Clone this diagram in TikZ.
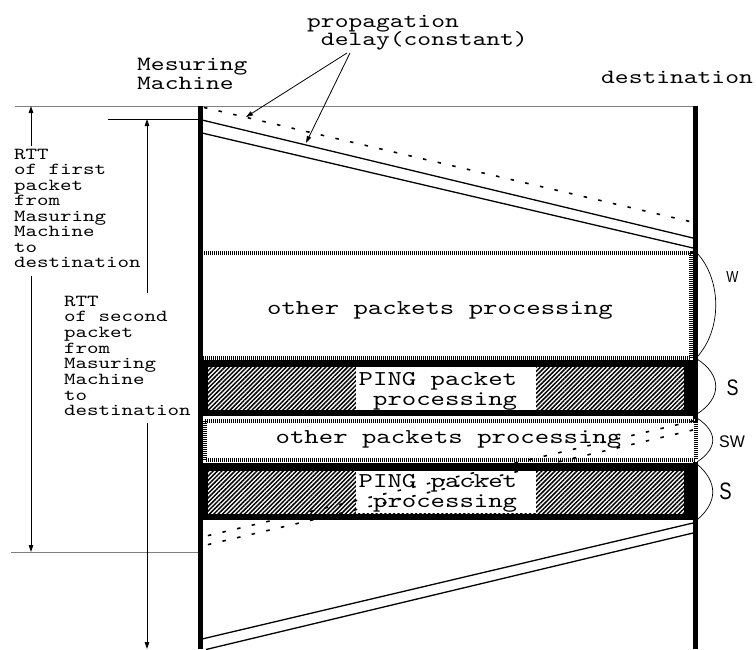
\documentclass[tikz,border=0pt]{standalone}
\usepackage{fontspec}
\usepackage{graphicx}
\newfontfamily\cmono[FakeStretch=1.3]{lmmono10-regular.otf}
\newfontfamily\lsans{Liberation Sans}
\usetikzlibrary{patterns.meta,arrows.meta,calc}
\newcommand\mystack[2]{\vtop{\lineskiplimit=-100pt\lineskip=0pt\baselineskip=#1\relax\halign{##\hfil\cr#2\crcr}}}
\tikzset{
  machine/.style={line width=5pt},
  ticked/.style={line width=4pt, dash pattern=on 1pt off 1pt},
  pkt/.style={line width=1.3pt},
  dots/.style={line width=1.6pt, dash pattern=on 3.5pt off 11.5pt},
  arr/.style={line width=0.8pt, -{Triangle[length=7pt,width=4.5pt]}},
  brace/.style={line width=0.7pt},
  guide/.style={draw=gray, line width=1pt},
  hatch/.style={pattern={Lines[angle=45,distance=3.1pt,line width=1.5pt]}},
  toptext/.style={font=\cmono\fontsize{20.2}{18}\selectfont, inner sep=0pt, anchor=base west},
  sidetext/.style={font=\cmono\fontsize{16.85}{15.6}\selectfont, inner xsep=0pt, inner ysep=3pt, anchor=base west},
  boxtext/.style={font=\cmono\fontsize{21.1}{20}\selectfont, inner sep=0pt},
  marktext/.style={inner sep=0pt, anchor=center}
}
\begin{document}
\begin{tikzpicture}[x=1pt,y=-1pt]
\useasboundingbox (0,0) rectangle (756,649);
\clip (0,0) rectangle (756,649);

% coordinates
\coordinate (mt) at (200,106);
\coordinate (mb) at (200,649);
\coordinate (dt) at (695,106);
\coordinate (db) at (695,649);

% guide lines
\coordinate (g1l) at (15,106);
\draw[guide] (g1l) -- (dt);
\coordinate (g2l) at (11,552);
\draw[guide] (g2l) -- (g2l -| mt);
\coordinate (h2l) at (108,119);
\draw[line width=0.8pt] (h2l) -- (h2l -| mt);

% machine lines
\draw[machine] (mt) -- (mb);
\draw[machine] (dt) -- (db);

% box 1: other packets
\draw[ticked] (201,253) rectangle (690.5,357.5);
% PING 1
\fill[black] (197.5,360) rectangle (697.5,416);
\fill[white] (208,367) rectangle (684,410);
\path[hatch] (208,367) rectangle (684,410);
\fill[white] (356,367) rectangle (536,410);
% box 2: other packets
\fill[white] (203,418.5) rectangle (698,461.7);
\draw[ticked] (205,420.5) rectangle (695.5,459.7);
% PING 2
\fill[black] (197.5,463) rectangle (697.5,520);
\fill[white] (208,471) rectangle (684,514);
\path[hatch] (208,471) rectangle (684,514);
\fill[white] (356,471) rectangle (536,513);

% packets (solid double lines)
\draw[pkt] (202,120) -- (693,238);
\draw[pkt] (202,133) -- (693,248);
\draw[pkt] (693,523) -- (202,639);
\draw[pkt] (693,533) -- (206,649.5);

% dotted lines
\draw[dots, dash phase=13pt] (202,107) -- (692,222);
\draw[dots] (693,421) -- (202,537);
\draw[dots] (693,430) -- (202,546);

% texts
\node[toptext] (prop) at (307,27) {\mystack{18pt}{propagation\cr\phantom{p}delay(constant)}};
\node[toptext] (meas) at (137,70) {\mystack{19pt}{Mesuring\cr Machine}};
\node[toptext] (dest) at (601,83) {destination};

\node[sidetext] (lab1) at (14,159) {\mystack{15.57pt}{RTT\cr of first\cr packet\cr from\cr Masuring\cr Machine\cr to\cr destination}};
\node[sidetext] (lab2) at (64,306) {\mystack{15.7pt}{RTT\cr of second\cr packet\cr from\cr Masuring\cr Machine\cr to\cr destination}};

\node[boxtext, anchor=base] (o1) at (440,314) {other packets processing};
\node[boxtext, anchor=base] (o2) at (448.5,443) {other packets processing};
\node[boxtext, anchor=base west] (p1) at (358.5,385) {\mystack{20pt}{PING packet\cr\phantom{P}processing}};
\node[boxtext, anchor=base west] (p2) at (358.5,487) {\mystack{20pt}{PING packet\cr\phantom{P}processing}};

% RTT arrows
\coordinate (a1t) at (31,106);
\coordinate (a1b) at (31,552);
\draw[arr] (lab1.north -| a1t) -- (a1t);
\draw[arr] ($(lab1.south -| a1t)+(0,5)$) -- (a1b);
\coordinate (a2t) at (147,119);
\coordinate (a2b) at (147,649);
\draw[arr] (lab2.north -| a2t) -- (a2t);
\draw[arr] ($(lab2.south -| a2t)+(0,4)$) -- (a2b);

% propagation delay arrows
\coordinate (pa) at (347,53);
\coordinate (pb) at (350,53);
\coordinate (ta) at (246,117);
\coordinate (tb) at (306,143);
\draw[arr] (pa) -- (ta);
\draw[arr] (pb) -- (tb);

% braces
\draw[brace] (697,253) .. controls (722,280) and (722,330) .. (697,357);
\draw[brace] (697,359) .. controls (722,375) and (722,398) .. (697,414);
\draw[brace] (697,418) .. controls (718,432) and (718,448) .. (697,462);
\draw[brace] (697,464) .. controls (718,482) and (718,502) .. (697,520);

\node[marktext, font=\lsans\fontsize{16}{18}\selectfont] (w) at (732.5,277) {\scalebox{0.8}[1]{W}};
\node[marktext, font=\lsans\fontsize{22.4}{24}\selectfont] (s1) at (732.5,388) {\scalebox{0.8}[1]{S}};
\node[marktext, font=\lsans\fontsize{16.8}{18}\selectfont] (sw) at (732,442) {\scalebox{0.95}[1]{SW}};
\node[marktext, font=\lsans\fontsize{23.7}{24}\selectfont] (s2) at (725.5,491.5) {\scalebox{0.78}[1]{S}};
\end{tikzpicture}
\end{document}
